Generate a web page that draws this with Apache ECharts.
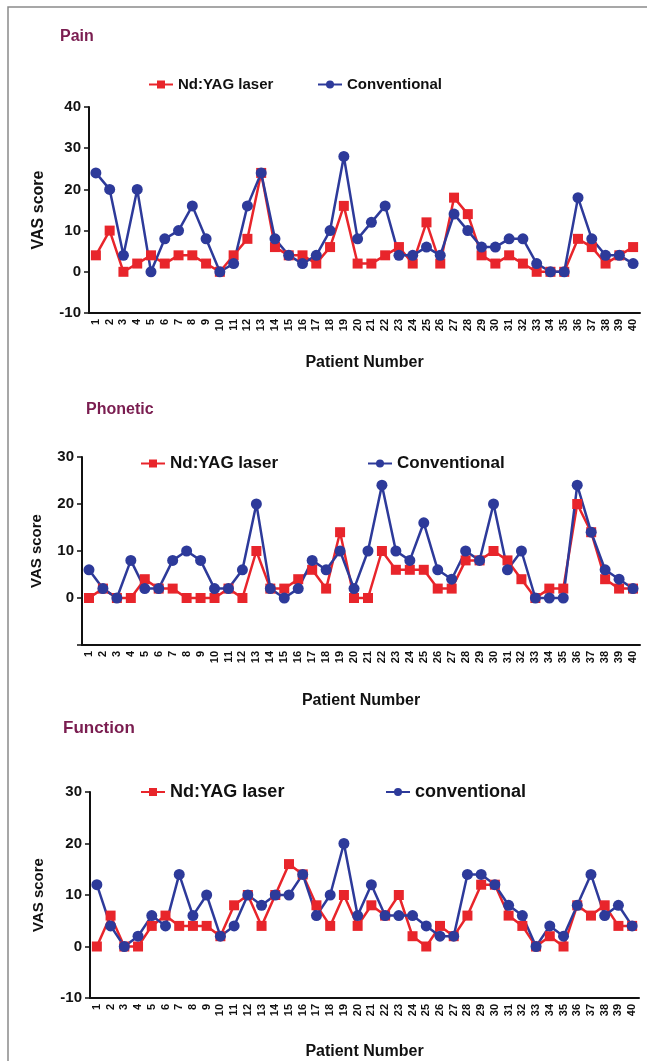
<!DOCTYPE html>
<html>
<head>
<meta charset="utf-8">
<script src="https://cdn.jsdelivr.net/npm/echarts@6/dist/echarts.min.js"></script>
<style>
  html, body { margin: 0; padding: 0; background: #fff; }
  #chart { width: 647px; height: 1061px; }
</style>
</head>
<body>
<div id="chart"></div>
<script>
// patient numbers 1..40
const patients = ['1','2','3','4','5','6','7','8','9','10','11','12','13','14','15','16','17','18','19','20',
  '21','22','23','24','25','26','27','28','29','30','31','32','33','34','35','36','37','38','39','40'];

// VAS scores
const painLaser = [4,10,0,2,4,2,4,4,2,0,4,8,24,6,4,4,2,6,16,2,2,4,6,2,12,2,18,14,4,2,4,2,0,0,0,8,6,2,4,6];
const painConv  = [24,20,4,20,0,8,10,16,8,0,2,16,24,8,4,2,4,10,28,8,12,16,4,4,6,4,14,10,6,6,8,8,2,0,0,18,8,4,4,2];

const phonLaser = [0,2,0,0,4,2,2,0,0,0,2,0,10,2,2,4,6,2,14,0,0,10,6,6,6,2,2,8,8,10,8,4,0,2,2,20,14,4,2,2];
const phonConv  = [6,2,0,8,2,2,8,10,8,2,2,6,20,2,0,2,8,6,10,2,10,24,10,8,16,6,4,10,8,20,6,10,0,0,0,24,14,6,4,2];

const funcLaser = [0,6,0,0,4,6,4,4,4,2,8,10,4,10,16,14,8,4,10,4,8,6,10,2,0,4,2,6,12,12,6,4,0,2,0,8,6,8,4,4];
const funcConv  = [12,4,0,2,6,4,14,6,10,2,4,10,8,10,10,14,6,10,20,6,12,6,6,6,4,2,2,14,14,12,8,6,0,4,2,8,14,6,8,4];

const RED = '#e8252b';
const BLUE = '#2d3a9a';
const TITLE = '#7a1d50';

function xAxisFor(idx, gap) {
  return {
    gridIndex: idx,
    type: 'category',
    data: patients,
    boundaryGap: true,
    name: 'Patient Number',
    nameLocation: 'middle',
    nameGap: gap,
    nameTextStyle: { fontSize: 16, fontWeight: 'bold', color: '#111', fontFamily: 'Liberation Sans' },
    axisLine: { onZero: false, lineStyle: { color: '#111', width: 2 } },
    axisTick: { alignWithLabel: true, interval: 0, length: 5, lineStyle: { color: '#111', width: 1.5 } },
    axisLabel: { interval: 0, rotate: 90, fontSize: 11, fontWeight: 'bold', color: '#111', margin: 6, fontFamily: 'Liberation Sans' },
    splitLine: { show: false }
  };
}

function yAxisFor(idx, min, max, gap, nameSize, hideMin) {
  return {
    gridIndex: idx,
    type: 'value',
    min: min,
    max: max,
    interval: 10,
    name: 'VAS score',
    nameLocation: 'middle',
    nameRotate: 90,
    nameGap: gap,
    nameTextStyle: { fontSize: nameSize, fontWeight: 'bold', color: '#111', fontFamily: 'Liberation Sans' },
    axisLine: { show: true, onZero: false, lineStyle: { color: '#111', width: 2 } },
    axisTick: { show: true, length: 5, lineStyle: { color: '#111', width: 1.5 } },
    axisLabel: {
      fontSize: 15, fontWeight: 'bold', color: '#111', margin: 8, fontFamily: 'Liberation Sans',
      formatter: v => (hideMin && v === min) ? '' : v
    },
    splitLine: { show: false }
  };
}

function lineSeries(name, data, idx, color, symbol) {
  return {
    name: name,
    type: 'line',
    xAxisIndex: idx,
    yAxisIndex: idx,
    data: data,
    symbol: symbol,
    symbolSize: symbol === 'rect' ? 10 : 11,
    lineStyle: { color: color, width: 2.5 },
    itemStyle: { color: color },
    emphasis: { disabled: true }
  };
}

function legendAt(name, left, top, size) {
  return {
    data: [name],
    left: left,
    top: top,
    itemWidth: 24,
    itemHeight: 10,
    textStyle: { fontSize: size, fontWeight: 'bold', color: '#111', fontFamily: 'Liberation Sans' }
  };
}

const option = {
  animation: false,
  title: [
    { text: 'Pain', left: 55, top: 24, textStyle: { color: TITLE, fontSize: 16, fontWeight: 'bold', fontFamily: 'Liberation Sans' } },
    { text: 'Phonetic', left: 81, top: 397, textStyle: { color: TITLE, fontSize: 16, fontWeight: 'bold', fontFamily: 'Liberation Sans' } },
    { text: 'Function', left: 58, top: 715, textStyle: { color: TITLE, fontSize: 17, fontWeight: 'bold', fontFamily: 'Liberation Sans' } }
  ],
  legend: [
    legendAt('Nd:YAG laser', 143, 72, 15),
    legendAt('Conventional', 312, 72, 15),
    legendAt('Nd:YAG laser', 135, 450, 17),
    legendAt('Conventional', 362, 450, 17),
    legendAt('Nd:YAG laser', 135, 778, 18),
    legendAt('conventional', 380, 778, 18)
  ],
  grid: [
    { left: 89, top: 107, width: 551, height: 206 },
    { left: 82, top: 457, width: 558, height: 188 },
    { left: 90, top: 792, width: 549, height: 208 }
  ],
  xAxis: [xAxisFor(0, 42), xAxisFor(1, 48), xAxisFor(2, 46)],
  yAxis: [
    yAxisFor(0, -10, 40, 42, 16, false),
    yAxisFor(1, -10, 30, 38, 15, true),
    yAxisFor(2, -10, 30, 44, 15, false)
  ],
  graphic: [{
    type: 'rect',
    shape: { x: 8, y: 7, width: 700, height: 1100 },
    style: { fill: 'none', stroke: '#8a8a8a', lineWidth: 1.5 },
    silent: true
  }],
  series: [
    lineSeries('Nd:YAG laser', painLaser, 0, RED, 'rect'),
    lineSeries('Conventional', painConv, 0, BLUE, 'circle'),
    lineSeries('Nd:YAG laser', phonLaser, 1, RED, 'rect'),
    lineSeries('Conventional', phonConv, 1, BLUE, 'circle'),
    lineSeries('Nd:YAG laser', funcLaser, 2, RED, 'rect'),
    lineSeries('conventional', funcConv, 2, BLUE, 'circle')
  ]
};

const chart = echarts.init(document.getElementById('chart'));
chart.setOption(option);
</script>
</body>
</html>
